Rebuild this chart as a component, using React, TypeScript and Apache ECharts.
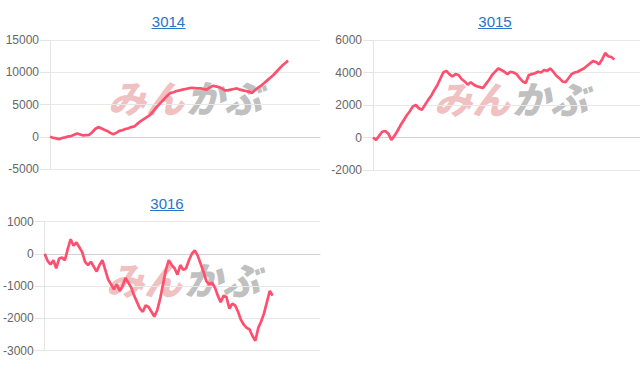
import React, { useEffect, useRef } from "react";
import * as echarts from "echarts";

const titles = ["3014", "3015", "3016"];

const series3014 = [
  0, -150, -250, -400, -200, -100, 50, 100, 300, 500,
  350, 200, 250, 300, 700, 1200, 1500, 1300, 1100, 900,
  600, 400, 600, 900, 1000, 1200, 1300, 1500, 1600, 2000,
  2400, 2700, 3000, 3300, 3800, 4400, 4900, 5400, 5900, 6400,
  6800, 6900, 7100, 7200, 7300, 7400, 7500, 7600, 7550, 7500,
  7500, 7400, 7300, 7600, 7900, 7800, 7700, 7500, 7200, 7200,
  7300, 7400, 7500, 7300, 7200, 7100, 7000, 6800, 7200, 7600,
  7900, 8300, 8700, 9100, 9500, 10000, 10500, 11000, 11400, 11800,
];

const series3015 = [
  0, -150, 100, 350, 400, 250, -150, 100, 400, 750,
  1050, 1350, 1600, 1900, 2000, 1800, 1700, 2000, 2300, 2550,
  2900, 3200, 3600, 4000, 4100, 3900, 3750, 3900, 3850, 3600,
  3450, 3250, 3400, 3250, 3150, 3100, 3050, 3300, 3550, 3850,
  4050, 4250, 4150, 4050, 3900, 4050, 4000, 3900, 3650, 3450,
  3350, 3850, 3900, 3950, 4050, 4000, 4150, 4100, 4250, 4050,
  3800, 3650, 3450, 3400, 3650, 3900, 4000, 4050, 4150, 4250,
  4400, 4550, 4700, 4650, 4500, 4800, 5200, 5000, 4950, 4800,
];

const series3016 = [
  0, -220, -330, -200, -450, -150, -120, -200, 150, 450,
  250, 350, 200, 50, -250, -350, -250, -400, -550, -350,
  -200, -500, -800, -950, -1100, -950, -1150, -1000, -750, -900,
  -1050, -1300, -1500, -1700, -1800, -1600, -1650, -1800, -1950, -1750,
  -1400, -950, -500, -200, -350, -450, -650, -350, -500, -450,
  -200, 0, 100, -50, -300, -550, -850, -950, -900, -1050,
  -1300, -1500, -1300, -1350, -1700, -1550, -1600, -1800, -2050, -2200,
  -2300, -2350, -2550, -2700, -2300, -2100, -1850, -1500, -1150, -1300,
];

const yMins = [-5000, -2000, -3000];
const yMaxs = [15000, 6000, 1000];
const yIntervals = [5000, 2000, 1000];
const xMaxs = [89.6, 87.4, 95.4];

const allSeries = [series3014, series3015, series3016];

const grids = [
  { left: 50, top: 40, width: 270, height: 129 },
  { left: 373, top: 40, width: 267, height: 130 },
  { left: 44.5, top: 221.5, width: 275.5, height: 129 },
];

const titlePos = [
  { x: 168.5, y: 21.5 },
  { x: 495, y: 21.5 },
  { x: 167, y: 203.5 },
];

const markPos = [
  { x: 185, y: 96 },
  { x: 511, y: 97.5 },
  { x: 183, y: 278.5 },
];

const LINE_COLOR = "#ff4f6e";
const LINK_COLOR = "#2a74c9";
const FONT = "'Liberation Sans', Arial, sans-serif";

export default function App() {
  const ref = useRef<HTMLDivElement>(null);

  useEffect(() => {
    if (!ref.current) return;
    const chart = echarts.init(ref.current, undefined, { renderer: "svg" });

    const graphics: any[] = [];
    titles.forEach((t, i) => {
      const p = titlePos[i];
      graphics.push({
        type: "text",
        z: 10,
        style: {
          text: t,
          x: p.x,
          y: p.y,
          fill: LINK_COLOR,
          font: `15px ${FONT}`,
          textAlign: "center",
          textVerticalAlign: "middle",
        },
      });
      graphics.push({
        type: "line",
        z: 10,
        shape: { x1: p.x - 17, y1: p.y + 7, x2: p.x + 17, y2: p.y + 7 },
        style: { stroke: LINK_COLOR, lineWidth: 1 },
      });
      const m = markPos[i];
      graphics.push({
        type: "text",
        z: -10,
        style: {
          text: "みん",
          x: m.x - 1,
          y: m.y,
          fill: "rgba(228,140,140,0.55)",
          font: `italic 900 38px 'Noto Sans CJK JP', sans-serif`,
          textAlign: "right",
          textVerticalAlign: "middle",
        },
      });
      graphics.push({
        type: "text",
        z: -10,
        style: {
          text: "かぶ",
          x: m.x + 1,
          y: m.y,
          fill: "rgba(150,150,150,0.6)",
          font: `italic 900 38px 'Noto Sans CJK JP', sans-serif`,
          textAlign: "left",
          textVerticalAlign: "middle",
        },
      });
    });

    const option: any = {
      animation: false,
      backgroundColor: "#ffffff",
      graphic: graphics,
      grid: grids.map((g) => ({ ...g, containLabel: false })),
      xAxis: allSeries.map((_, i) => ({
        type: "value",
        gridIndex: i,
        min: 0,
        max: xMaxs[i],
        axisLabel: { show: false },
        axisTick: { show: false },
        splitLine: { show: false },
        axisLine: { show: true, onZero: true, lineStyle: { color: "#d2d2d2", width: 1 } },
      })),
      yAxis: allSeries.map((_, i) => ({
        type: "value",
        gridIndex: i,
        min: yMins[i],
        max: yMaxs[i],
        interval: yIntervals[i],
        axisLine: { show: true, lineStyle: { color: "#e4e4e4" } },
        axisTick: { show: true, length: 10, lineStyle: { color: "#e4e4e4" } },
        splitLine: { show: true, lineStyle: { color: "#e8e8e8" } },
        axisLabel: {
          color: "#666666",
          fontSize: 12,
          fontFamily: FONT,
          margin: 11,
          formatter: (v: number) => String(v),
        },
      })),
      series: allSeries.map((d, i) => ({
        type: "line",
        xAxisIndex: i,
        yAxisIndex: i,
        data: d.map((v, k) => [k, v]),
        showSymbol: false,
        symbol: "none",
        lineStyle: { color: LINE_COLOR, width: 2.7 },
        z: 5,
      })),
    };

    chart.setOption(option);
    return () => chart.dispose();
  }, []);

  return (
    <div
      ref={ref}
      style={{ position: "fixed", left: 0, top: 0, width: 640, height: 372 }}
    />
  );
}
